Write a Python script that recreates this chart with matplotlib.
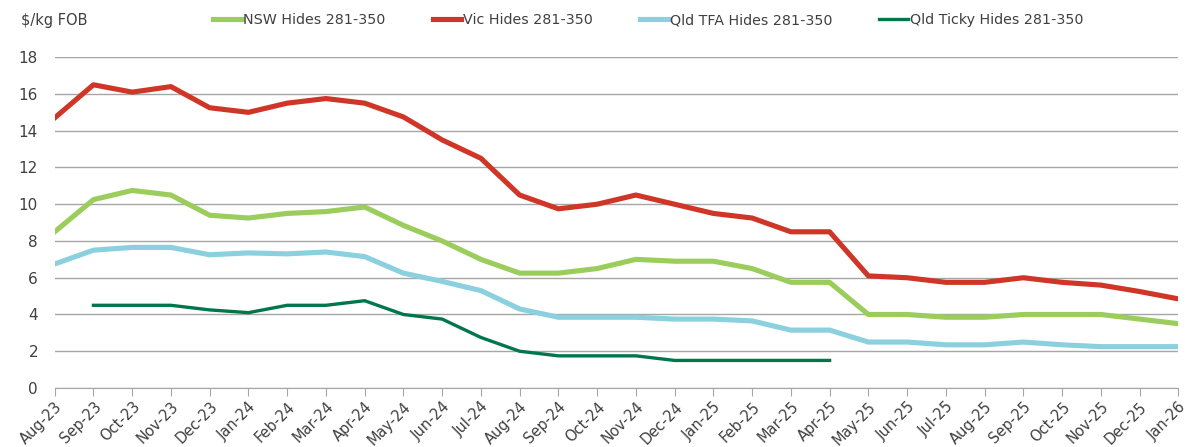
import matplotlib
matplotlib.use("Agg")
import matplotlib.pyplot as plt
import numpy as np

months = ["Aug-23","Sep-23","Oct-23","Nov-23","Dec-23","Jan-24","Feb-24","Mar-24","Apr-24","May-24",
          "Jun-24","Jul-24","Aug-24","Sep-24","Oct-24","Nov-24","Dec-24","Jan-25","Feb-25","Mar-25",
          "Apr-25","May-25","Jun-25","Jul-25","Aug-25","Sep-25","Oct-25","Nov-25","Dec-25","Jan-26"]

nsw = [8.5, 10.25, 10.75, 10.5, 9.4, 9.25, 9.5, 9.6, 9.85, 8.85, 8.0, 7.0, 6.25, 6.25, 6.5, 7.0,
       6.9, 6.9, 6.5, 5.75, 5.75, 4.0, 4.0, 3.85, 3.85, 4.0, 4.0, 4.0, 3.75, 3.5]
vic = [14.7, 16.5, 16.1, 16.4, 15.25, 15.0, 15.5, 15.75, 15.5, 14.75, 13.5, 12.5, 10.5, 9.75, 10.0, 10.5,
       10.0, 9.5, 9.25, 8.5, 8.5, 6.1, 6.0, 5.75, 5.75, 6.0, 5.75, 5.6, 5.25, 4.85]
tfa = [6.75, 7.5, 7.65, 7.65, 7.25, 7.35, 7.3, 7.4, 7.15, 6.25, 5.8, 5.3, 4.3, 3.85, 3.85, 3.85,
       3.75, 3.75, 3.65, 3.15, 3.15, 2.5, 2.5, 2.35, 2.35, 2.5, 2.35, 2.25, 2.25, 2.25]
ticky = [np.nan, 4.5, 4.5, 4.5, 4.25, 4.1, 4.5, 4.5, 4.75, 4.0, 3.75, 2.75, 2.0, 1.75, 1.75, 1.75,
         1.5, 1.5, 1.5, 1.5, 1.5] + [np.nan] * 9

series_names = ["NSW Hides 281-350", "Vic Hides 281-350", "Qld TFA Hides 281-350", "Qld Ticky Hides 281-350"]

plt.rcParams['font.family'] = ['DejaVu Sans']
fig = plt.figure(figsize=(11.89, 4.47), dpi=100)
ax = fig.add_axes([0.046, 0.132, 0.945, 0.74])

x = np.arange(len(months))
ax.plot(x, nsw, color="#9BCD5C", lw=3.7, label=series_names[0])
ax.plot(x, vic, color="#D03627", lw=3.7, label=series_names[1])
ax.plot(x, tfa, color="#8BD0DE", lw=3.7, label=series_names[2])
ax.plot(x, ticky, color="#00774A", lw=2.4, label=series_names[3])

ax.set_xlim(0, len(months) - 1)
ax.set_ylim(0, 18)
ax.set_yticks(np.arange(0, 19, 2))
ax.yaxis.grid(True, color="#A6A6A6", lw=1.0)
ax.set_axisbelow(True)
for s in ["left", "right", "top"]:
    ax.spines[s].set_visible(False)
ax.spines["bottom"].set_color("#A6A6A6")
ax.tick_params(axis="y", length=0, labelsize=11, labelcolor="#404040", pad=12)
ax.set_xticks(x)
ax.set_xticklabels(months, rotation=45, ha="right", rotation_mode="anchor", fontsize=10.5, color="#404040")
ax.tick_params(axis="x", length=6, color="#A6A6A6", pad=2)

fig.text(0.018, 0.955, "$/kg FOB", fontsize=10.5, color="#404040", va="center")
leg = fig.legend(loc="center", bbox_to_anchor=(0.545, 0.955), ncol=4, frameon=False,
                 fontsize=10.3, handlelength=2.0, handletextpad=0.1, columnspacing=3.3)
for t in leg.get_texts():
    t.set_color("#404040")

fig.savefig("out.png", dpi=100)
